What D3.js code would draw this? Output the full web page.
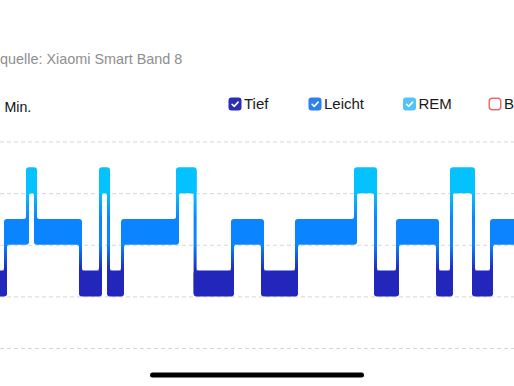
<!DOCTYPE html>
<html>
<head>
<meta charset="utf-8">
<script src="https://cdn.jsdelivr.net/npm/d3@7/dist/d3.min.js"></script>
<style>
  html, body { margin: 0; padding: 0; background: #fff; overflow: hidden; }
  svg { display: block; font-family: "Liberation Sans", Arial, sans-serif; }
</style>
</head>
<body>
<div id="chart"></div>
<script>
// Sleep stages, bottom to top
const stages = ['Tief', 'Leicht', 'REM', 'Wach'];
const stageColors = ['#2226bb', '#0a84ff', '#03c2ff', '#ff5a5f'];

// Legend (last entry is unchecked, cut off at the right edge)
const legendLabels = ['Tief', 'Leicht', 'REM', 'Blutsauerstoff'];
const legendColors = ['#2a2db5', '#2f80ef', '#52c3f7', '#f06a6a'];
const legendChecked = [true, true, true, false];

// Hypnogram segments (minutes)
const segStart = [-10, 2, 13, 18.5, 41, 49.5, 55, 60.5, 88, 98.3, 115.5, 132, 147.5, 177, 188.5, 198, 219.5, 225, 237.5, 245];
const segEnd   = [2, 13, 18.5, 41, 49.5, 55, 60.5, 88, 98.3, 115.5, 132, 147.5, 177, 188.5, 198, 219.5, 225, 237.5, 245, 270];
const segStage = ['Tief', 'Leicht', 'REM', 'Leicht', 'Tief', 'REM', 'Tief', 'Leicht', 'REM', 'Tief',
                  'Leicht', 'Tief', 'Leicht', 'REM', 'Tief', 'Leicht', 'Tief', 'REM', 'Tief', 'Leicht'];

const gridTicks = [0, 1, 2, 3, 4];

const width = 514, height = 386;

const svg = d3.select('#chart').append('svg')
    .attr('width', width)
    .attr('height', height);

const x = d3.scaleLinear().domain([0, 257]).range([0, 514]);
const y = d3.scaleLinear().domain([0, 4]).range([348, 141.5]);
const bandH = 0.5; // each stage block covers half a step above its line

const level = s => stages.indexOf(s) + 1;

// header texts
svg.append('text')
    .attr('x', 0).attr('y', 64)
    .attr('font-size', 14.4)
    .attr('fill', '#8e8e8e')
    .text('quelle: Xiaomi Smart Band 8');

svg.append('text')
    .attr('x', 4.5).attr('y', 112)
    .attr('font-size', 14.2)
    .attr('fill', '#111')
    .text('Min.');

// legend
const legendX = [228.5, 308.5, 403, 488.5];
const lg = svg.append('g').selectAll('g')
    .data(legendLabels)
    .join('g')
    .attr('transform', (d, i) => `translate(${legendX[i]},97.5)`);

lg.append('rect')
    .attr('x', (d, i) => legendChecked[i] ? 0 : 0.75)
    .attr('y', (d, i) => legendChecked[i] ? 0 : 0.75)
    .attr('width', (d, i) => legendChecked[i] ? 13 : 11.5)
    .attr('height', (d, i) => legendChecked[i] ? 13 : 11.5)
    .attr('rx', 3)
    .attr('fill', (d, i) => legendChecked[i] ? legendColors[i] : '#fff')
    .attr('stroke', (d, i) => legendChecked[i] ? 'none' : legendColors[i])
    .attr('stroke-width', 1.5);

lg.filter((d, i) => legendChecked[i]).append('path')
    .attr('d', 'M3.6,6.8 L5.7,8.9 L9.6,4.6')
    .attr('fill', 'none')
    .attr('stroke', '#fff')
    .attr('stroke-width', 1.6)
    .attr('stroke-linecap', 'round')
    .attr('stroke-linejoin', 'round');

lg.append('text')
    .attr('x', 15.5).attr('y', 11.8)
    .attr('font-size', 15)
    .attr('fill', '#1a1a1a')
    .text(d => d);

// grid lines
svg.append('g').selectAll('line')
    .data(gridTicks)
    .join('line')
    .attr('x1', 0).attr('x2', width)
    .attr('y1', d => y(d) + 0.5).attr('y2', d => y(d) + 0.5)
    .attr('stroke', '#d6d6d6')
    .attr('stroke-width', 1)
    .attr('stroke-dasharray', '4,3');

// one vertical gradient shared by all blocks and connectors
const gy1 = y(4.5), gy2 = y(1);
const off = v => (y(v) - gy1) / (gy2 - gy1);
const stops = [
    [4.5, stageColors[3]], [4, stageColors[3]],
    [3.5, stageColors[2]], [3, stageColors[2]],
    [2.5, stageColors[1]], [2, stageColors[1]],
    [1.5, stageColors[0]], [1, stageColors[0]]
];
const grad = svg.append('defs').append('linearGradient')
    .attr('id', 'stageGrad')
    .attr('gradientUnits', 'userSpaceOnUse')
    .attr('x1', 0).attr('x2', 0)
    .attr('y1', gy1).attr('y2', gy2);
grad.selectAll('stop')
    .data(stops)
    .join('stop')
    .attr('offset', d => off(d[0]))
    .attr('stop-color', d => d[1]);

const cw = 3;   // connector width
const fr = 2.5; // fillet radius

const segs = segStage.map((s, i) => ({ stage: s, x0: x(segStart[i]), x1: x(segEnd[i]) }));

// connectors between consecutive stages, drawn inside the higher block
const links = segs.slice(1).map((d, i) => {
    const prev = segs[i];
    const upperLeft = level(prev.stage) > level(d.stage);
    const t = d.x0;
    // the lower block grows under the connector
    if (upperLeft) d.x0 -= cw; else prev.x1 += cw;
    return {
        t, upperLeft,
        hi: Math.max(level(prev.stage), level(d.stage)),
        lo: Math.min(level(prev.stage), level(d.stage))
    };
});

const hyp = svg.append('g').attr('fill', 'url(#stageGrad)');

hyp.selectAll('rect.block')
    .data(segs)
    .join('rect')
    .attr('class', 'block')
    .attr('x', d => d.x0)
    .attr('width', d => d.x1 - d.x0)
    .attr('y', d => y(level(d.stage) + bandH))
    .attr('height', d => y(level(d.stage)) - y(level(d.stage) + bandH))
    .attr('rx', 3);

hyp.selectAll('rect.link')
    .data(links)
    .join('rect')
    .attr('class', 'link')
    .attr('x', d => d.upperLeft ? d.t - cw : d.t)
    .attr('width', cw)
    .attr('y', d => y(d.hi + bandH) + 3)
    .attr('height', d => (y(d.lo) - 3) - (y(d.hi + bandH) + 3));

// small concave fillets where connectors meet the blocks
const fillet = (cx, cy, dx, dy) =>
    `M${cx},${cy}L${cx + dx * fr},${cy}A${fr},${fr} 0 0 ${dx * dy < 0 ? 1 : 0} ${cx},${cy + dy * fr}Z`;
const fillets = [];
links.forEach(d => {
    if (d.upperLeft) {
        fillets.push(fillet(d.t - cw, y(d.hi), -1, 1));
        fillets.push(fillet(d.t, y(d.lo + bandH), 1, -1));
    } else {
        fillets.push(fillet(d.t + cw, y(d.hi), 1, 1));
        fillets.push(fillet(d.t, y(d.lo + bandH), -1, -1));
    }
});
hyp.selectAll('path.fillet')
    .data(fillets)
    .join('path')
    .attr('class', 'fillet')
    .attr('d', d => d);

// phone home indicator
svg.append('rect')
    .attr('x', 150).attr('y', 372.5)
    .attr('width', 214).attr('height', 5)
    .attr('rx', 2.5)
    .attr('fill', '#000');
</script>
</body>
</html>
